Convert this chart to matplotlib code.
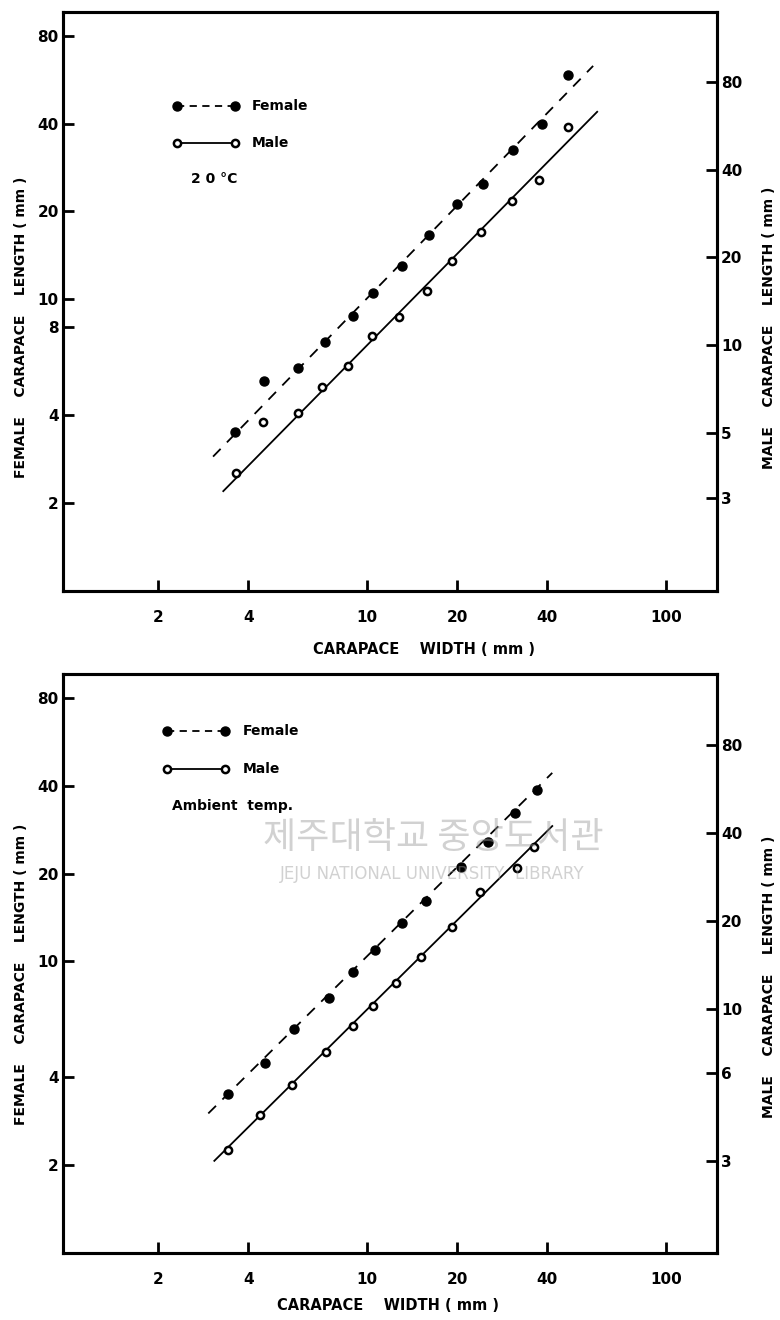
import matplotlib
matplotlib.use("Agg")
from matplotlib import pyplot as plt
from matplotlib.lines import Line2D

# ---- data ----
# top panel, 20 C
top_female_cw = [3.62, 4.52, 5.88, 7.24, 8.98, 10.47, 13.09, 16.12, 20.0, 24.43, 30.78, 38.5, 47.0]
top_female_cl = [3.50, 5.24, 5.81, 7.14, 8.76, 10.5, 13.0, 16.6, 21.2, 24.9, 32.5, 39.9, 58.8]
top_male_cw = [3.65, 4.49, 5.88, 7.07, 8.64, 10.39, 12.79, 15.87, 19.24, 24.06, 30.55, 37.6, 47.0]
top_male_cl = [3.64, 5.44, 5.84, 7.17, 8.46, 10.8, 12.5, 15.4, 19.5, 24.5, 31.3, 36.9, 56.1]
top_female_fit_cw = [3.05, 57.0]
top_female_fit_cl = [2.88, 63.1]
top_male_fit_cw = [3.30, 58.8]
top_male_fit_cl = [3.16, 63.2]

# bottom panel, ambient temperature
bot_female_cw = [3.43, 4.56, 5.70, 7.46, 8.98, 10.64, 13.09, 15.75, 20.63, 25.39, 31.26, 37.04]
bot_female_cl = [3.52, 4.50, 5.84, 7.51, 9.22, 10.97, 13.57, 16.14, 21.1, 25.7, 32.3, 38.7]
bot_male_cw = [3.43, 4.39, 5.61, 7.29, 8.98, 10.47, 12.50, 15.16, 19.24, 23.88, 31.75, 36.19]
bot_male_cl = [3.28, 4.33, 5.48, 7.11, 8.73, 10.2, 12.2, 15.0, 19.0, 25.1, 30.3, 35.8]
bot_female_fit_cw = [2.94, 41.6]
bot_female_fit_cl = [3.01, 44.3]
bot_male_fit_cw = [3.08, 41.6]
bot_male_fit_cl = [3.01, 42.2]

x_ticks = [2, 4, 10, 20, 40, 100]
top_left_ticks = [2, 4, 8, 10, 20, 40, 80]
top_right_ticks = [3, 5, 10, 20, 40, 80]
bot_left_ticks = [2, 4, 10, 20, 40, 80]
bot_right_ticks = [3, 6, 10, 20, 40, 80]

plt.rcParams['font.family'] = ['DejaVu Sans']
plt.rcParams['font.weight'] = 'bold'

fig = plt.figure(figsize=(7.8, 13.2), dpi=100)


def style_axis(ax):
    for s in ax.spines.values():
        s.set_linewidth(2.2)
    ax.tick_params(which='major', direction='in', length=8, width=2,
                   labelsize=11, pad=4)
    ax.tick_params(which='minor', length=0)


def make_panel(rect, ylim_l, ylim_r, lticks, rticks,
               f_cw, f_cl, m_cw, m_cl, ff_cw, ff_cl, mf_cw, mf_cl):
    ax = fig.add_axes(rect)
    ax.set_xscale('log')
    ax.set_yscale('log')
    ax.set_xlim(0.96, 148)
    ax.set_ylim(*ylim_l)
    ax.set_xticks(x_ticks)
    ax.set_xticklabels([str(v) for v in x_ticks])
    ax.set_yticks(lticks)
    ax.set_yticklabels([str(v) for v in lticks])
    ax.minorticks_off()
    style_axis(ax)
    ax.tick_params(axis='x', pad=14)
    ax.tick_params(axis='y', pad=3)

    ax2 = ax.twinx()
    ax2.set_yscale('log')
    ax2.set_ylim(*ylim_r)
    ax2.set_yticks(rticks)
    ax2.set_yticklabels([str(v) for v in rticks])
    ax2.minorticks_off()
    style_axis(ax2)
    ax2.tick_params(axis='y', pad=3)

    # female: filled circles, dashed fit (left axis)
    ax.plot(ff_cw, ff_cl, color='black', lw=1.3, ls=(0, (6, 5)))
    ax.plot(f_cw, f_cl, 'o', color='black', ms=6.5, ls='none')
    # male: open circles, solid fit (right axis)
    ax2.plot(mf_cw, mf_cl, color='black', lw=1.3)
    ax2.plot(m_cw, m_cl, 'o', mfc='white', mec='black', mew=1.8, ms=5.2, ls='none')
    return ax, ax2


ax_top, ax_top2 = make_panel([63 / 780, 1 - 591 / 1320, 654 / 780, 579 / 1320],
                             (0.996, 96.6), (1.436, 139),
                             top_left_ticks, top_right_ticks,
                             top_female_cw, top_female_cl, top_male_cw, top_male_cl,
                             top_female_fit_cw, top_female_fit_cl,
                             top_male_fit_cw, top_male_fit_cl)

ax_bot, ax_bot2 = make_panel([63 / 780, 1 - 1253 / 1320, 654 / 780, 579 / 1320],
                             (1.0, 96.7), (1.455, 140),
                             bot_left_ticks, bot_right_ticks,
                             bot_female_cw, bot_female_cl, bot_male_cw, bot_male_cl,
                             bot_female_fit_cw, bot_female_fit_cl,
                             bot_male_fit_cw, bot_male_fit_cl)


def fx(px):
    return px / 780


def fy(py):
    return 1 - py / 1320


# legends drawn by hand, like the original
def legend(x0, x1, y_f, y_m, tx, note, note_x, note_y):
    fig.add_artist(Line2D([fx(x0), fx(x1)], [fy(y_f), fy(y_f)], color='black',
                          lw=1.3, ls=(0, (4, 3)), marker='o', ms=6.5,
                          markevery=[0, 1]))
    fig.add_artist(Line2D([fx(x0), fx(x1)], [fy(y_m), fy(y_m)], color='black',
                          lw=1.3, marker='o', mfc='white', mew=1.8, ms=5.2,
                          markevery=[0, 1]))
    fig.text(fx(tx), fy(y_f), 'Female', fontsize=10, va='center', ha='left')
    fig.text(fx(tx), fy(y_m), 'Male', fontsize=10, va='center', ha='left')
    fig.text(fx(note_x), fy(note_y), note, fontsize=10, va='center', ha='left')


legend(177, 235, 106, 143, 252, '2 0 °C', 191, 179)
legend(167, 225, 731, 769, 243, 'Ambient  temp.', 172, 806)

# axis titles
fig.text(fx(313), fy(650), 'CARAPACE    WIDTH ( mm )', fontsize=10.5,
         ha='left', va='center')
fig.text(fx(277), fy(1305), 'CARAPACE    WIDTH ( mm )', fontsize=10.5,
         ha='left', va='center')
fig.text(fx(21), fy(327), 'FEMALE    CARAPACE    LENGTH ( mm )', fontsize=10,
         rotation=90, ha='center', va='center')
fig.text(fx(21), fy(974), 'FEMALE    CARAPACE    LENGTH ( mm )', fontsize=10,
         rotation=90, ha='center', va='center')
fig.text(fx(769), fy(328), 'MALE    CARAPACE    LENGTH ( mm )', fontsize=10,
         rotation=90, ha='center', va='center')
fig.text(fx(769), fy(977), 'MALE    CARAPACE    LENGTH ( mm )', fontsize=10,
         rotation=90, ha='center', va='center')

# library watermark of the scan
fig.text(fx(433), fy(838), '제주대학교 중앙도서관', fontsize=26,
         family=['Noto Sans CJK KR', 'DejaVu Sans'], fontweight='normal',
         color='#9a9a9a', alpha=0.45, ha='center', va='center')
fig.text(fx(432), fy(874), 'JEJU NATIONAL UNIVERSITY  LIBRARY', fontsize=12,
         fontweight='normal', color='#9a9a9a', alpha=0.45,
         ha='center', va='center')

fig.savefig('out.png', dpi=100)
